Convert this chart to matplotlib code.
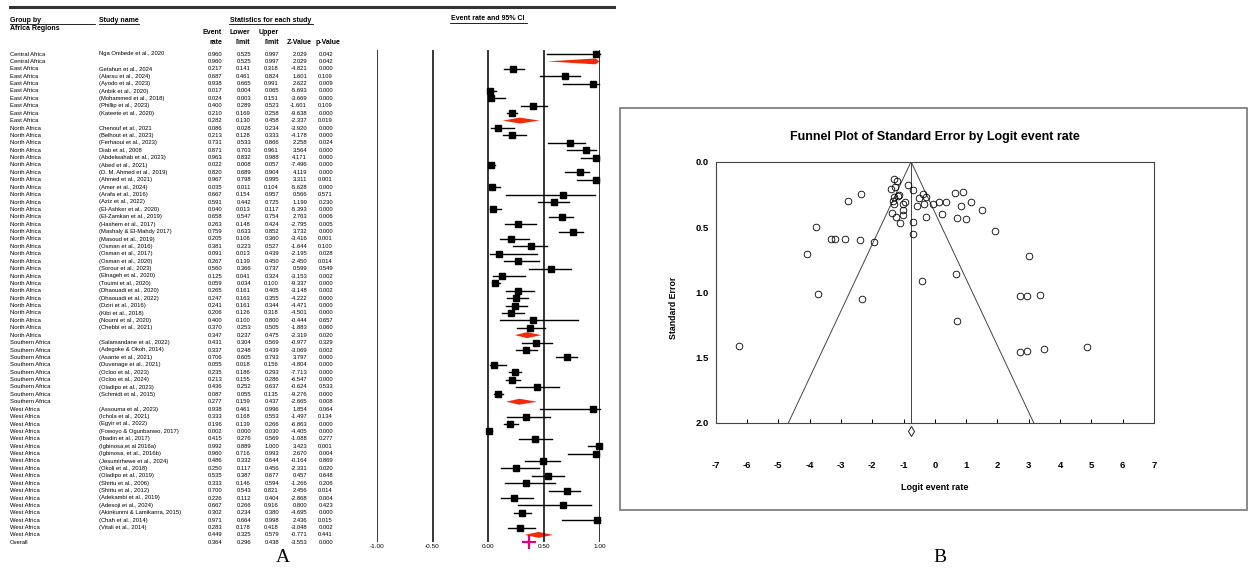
import matplotlib.pyplot as plt
from matplotlib.patches import Polygon, Rectangle

plt.rcParams['font.family'] = ['Liberation Sans', 'DejaVu Sans']

# forest plot table (panel A), blank study name = subgroup summary
regions = (['Central Africa'] * 2 + ['East Africa'] * 8 + ['North Africa'] * 29
           + ['Southern Africa'] * 9 + ['West Africa'] * 18 + ['Overall'])

studies = [
    'Nga Ombede et al., 2020', '',
    'Getahun et al., 2024', '(Alarsu et al., 2024)', '(Ayodo et al., 2023)', '(Anbik et al., 2020)',
    '(Mohammed et al., 2018)', '(Phillip et al., 2023)', '(Kateete et al., 2020)', '',
    'Chenouf et al., 2021', '(Belhout et al., 2023)', '(Ferhaoui et al., 2023)', 'Diab et al., 2008',
    '(Abdelwahab et al., 2023)', '(Abed et al., 2021)', '(D. M. Ahmed et al., 2019)', '(Ahmed et al., 2021)',
    '(Amer et al., 2024)', '(Arafa et al., 2016)', '(Aziz et al., 2022)', '(El-Ashker et al., 2020)',
    '(El-Zamkan et al., 2019)', '(Hashem et al., 2017)', '(Mashaly & El-Mahdy 2017)', '(Masoud et al., 2019)',
    '(Osman et al., 2016)', '(Osman et al., 2017)', '(Osman et al., 2020)', '(Sorour et al., 2023)',
    '(Elnageh et al., 2020)', '(Touimi et al., 2020)', '(Dhaouadi et al., 2020)', '(Dhaouadi et al., 2022)',
    '(Dziri et al., 2016)', '(Kibi et al., 2018)', '(Nourni et al., 2020)', '(Chebbi et al., 2021)', '',
    '(Salamandane et al., 2022)', '(Adegoke & Okoh, 2014)', '(Asante et al., 2021)', '(Duvenage et al., 2021)',
    '(Ocloo et al., 2023)', '(Ocloo et al., 2024)', '(Oladipo et al., 2023)', '(Schmidt et al., 2015)', '',
    '(Assouma et al., 2023)', '(Ichola et al., 2021)', '(Egyir et al., 2022)', '(Fowoyo & Ogunbanwo, 2017)',
    '(Ibadin et al., 2017)', '(Igbinosa,et al 2016a)', '(Igbinosa, et al., 2016b)', '(Jesumirhewe et al., 2024)',
    '(Okoli et al., 2018)', '(Oladipo et al., 2019)', '(Shittu et al., 2006)', '(Shittu et al., 2012)',
    '(Adekambi et al., 2019)', '(Adesoji et al., 2024)', '(Akinkunmi & Lamikanra, 2015)', '(Chah et al., 2014)',
    '(Vitali et al., 2014)', '',
    '',
]

event_rate = [0.960, 0.960,
              0.217, 0.687, 0.938, 0.017, 0.024, 0.400, 0.210, 0.282,
              0.086, 0.213, 0.731, 0.871, 0.963, 0.022, 0.820, 0.967, 0.035, 0.667, 0.591, 0.040,
              0.658, 0.263, 0.759, 0.205, 0.381, 0.091, 0.267, 0.560, 0.125, 0.059, 0.265, 0.247,
              0.241, 0.206, 0.400, 0.370, 0.347,
              0.431, 0.337, 0.706, 0.055, 0.235, 0.213, 0.436, 0.087, 0.277,
              0.938, 0.333, 0.196, 0.002, 0.415, 0.992, 0.960, 0.486, 0.250, 0.535, 0.333, 0.700,
              0.226, 0.667, 0.302, 0.971, 0.283, 0.449,
              0.364]
lower_limit = [0.525, 0.525,
               0.141, 0.461, 0.665, 0.004, 0.003, 0.289, 0.169, 0.130,
               0.028, 0.128, 0.533, 0.703, 0.832, 0.008, 0.689, 0.798, 0.011, 0.154, 0.442, 0.013,
               0.547, 0.148, 0.633, 0.106, 0.223, 0.013, 0.139, 0.366, 0.041, 0.034, 0.161, 0.163,
               0.161, 0.126, 0.100, 0.253, 0.237,
               0.304, 0.248, 0.605, 0.018, 0.186, 0.155, 0.252, 0.055, 0.159,
               0.461, 0.168, 0.139, 0.000, 0.276, 0.889, 0.716, 0.332, 0.117, 0.387, 0.146, 0.543,
               0.112, 0.266, 0.234, 0.664, 0.178, 0.325,
               0.296]
upper_limit = [0.997, 0.997,
               0.318, 0.824, 0.991, 0.065, 0.151, 0.523, 0.258, 0.458,
               0.234, 0.333, 0.866, 0.961, 0.988, 0.057, 0.904, 0.995, 0.104, 0.957, 0.725, 0.117,
               0.754, 0.424, 0.852, 0.360, 0.527, 0.439, 0.450, 0.737, 0.324, 0.100, 0.405, 0.355,
               0.344, 0.318, 0.800, 0.505, 0.475,
               0.569, 0.439, 0.793, 0.156, 0.293, 0.286, 0.637, 0.135, 0.437,
               0.996, 0.553, 0.266, 0.030, 0.569, 1.000, 0.993, 0.644, 0.456, 0.677, 0.594, 0.821,
               0.404, 0.916, 0.380, 0.998, 0.418, 0.579,
               0.438]
z_value = [2.029, 2.029,
           -4.821, 1.601, 2.622, -5.693, -3.669, -1.601, -9.638, -2.337,
           -3.920, -4.178, 2.258, 3.564, 4.171, -7.496, 4.119, 3.311, -5.628, 0.566, 1.199, -5.393,
           2.763, -2.795, 3.732, -3.416, -1.644, -2.195, -2.450, 0.599, -3.153, -9.337, -3.148, -4.222,
           -4.471, -4.501, -0.444, -1.883, -2.319,
           -0.977, -3.069, 3.797, -4.804, -7.713, -6.547, -0.624, -9.276, -2.665,
           1.854, -1.497, -6.863, -4.405, -1.088, 3.423, 2.670, -0.164, -2.331, 0.457, -1.266, 2.456,
           -2.868, 0.800, -4.695, 2.436, -3.048, -0.771,
           -3.553]
p_value = [0.042, 0.042,
           0.000, 0.109, 0.009, 0.000, 0.000, 0.109, 0.000, 0.019,
           0.000, 0.000, 0.024, 0.000, 0.000, 0.000, 0.000, 0.001, 0.000, 0.571, 0.230, 0.000,
           0.006, 0.005, 0.000, 0.001, 0.100, 0.028, 0.014, 0.549, 0.002, 0.000, 0.002, 0.000,
           0.000, 0.000, 0.657, 0.060, 0.020,
           0.329, 0.002, 0.000, 0.000, 0.000, 0.000, 0.533, 0.000, 0.008,
           0.064, 0.134, 0.000, 0.000, 0.277, 0.001, 0.004, 0.869, 0.020, 0.648, 0.206, 0.014,
           0.004, 0.423, 0.000, 0.015, 0.002, 0.441,
           0.000]

axis_ticks = [-1.0, -0.5, 0.0, 0.5, 1.0]
axis_labels = ['-1.00', '-0.50', '0.00', '0.50', '1.00']

# funnel plot (panel B)
funnel_logit = [-1.32, -1.20, -1.41, -1.27, -0.85, -0.69, -2.35, -1.15, -1.32, -1.18,
                -2.79, -1.35, -1.31, -0.94, -1.03, -0.52, -0.37, -0.27, -0.34, -0.57,
                -0.05, 0.14, 0.37, 0.65, 0.89, 1.15, 0.84, 1.51, -1.02, -1.36,
                -1.23, -1.01, -1.11, -0.69, -0.27, 0.24, 0.70, 0.99, -0.69, 1.91,
                -3.81, -3.31, -3.18, -2.86, -2.38, -1.95, -4.09, 3.00, -0.41, 0.69,
                -3.73, -2.32, 2.71, 2.94, 3.36, 0.70, -6.26, 2.71, 2.94, 3.50, 4.86]
funnel_se = [0.135, 0.15, 0.21, 0.19, 0.18, 0.22, 0.25, 0.255, 0.27, 0.26,
             0.30, 0.30, 0.32, 0.31, 0.32, 0.28, 0.25, 0.27, 0.32, 0.34,
             0.325, 0.305, 0.305, 0.236, 0.23, 0.305, 0.34, 0.37, 0.37, 0.39,
             0.42, 0.41, 0.47, 0.46, 0.42, 0.40, 0.43, 0.44, 0.55, 0.53,
             0.50, 0.59, 0.59, 0.59, 0.60, 0.615, 0.71, 0.725, 0.91, 0.86,
             1.01, 1.05, 1.03, 1.03, 1.02, 1.22, 1.41, 1.46, 1.45, 1.43, 1.42]
funnel_center = -0.76

fig = plt.figure(figsize=(12.5, 5.72), dpi=100)
bg = fig.add_axes([0, 0, 1, 1])
bg.set_xlim(0, 1250)
bg.set_ylim(572, 0)
bg.axis('off')

row_fs = 4.2
head_fs = 5.0

# header of the table
bg.plot([10, 614], [7, 7], color='#333333', lw=2.2)
bg.text(10, 20, 'Group by', fontsize=head_fs, weight='bold', va='center')
bg.plot([10, 95], [24, 24], color='black', lw=0.6)
bg.text(10, 29, 'Africa Regions', fontsize=head_fs, weight='bold', va='center')
bg.text(99, 20, 'Study name', fontsize=head_fs, weight='bold', va='center')
bg.plot([99, 139], [24, 24], color='black', lw=0.6)
bg.text(271, 20, 'Statistics for each study', fontsize=head_fs, weight='bold', va='center', ha='center')
bg.plot([229, 313], [24, 24], color='black', lw=0.6)
bg.text(222, 33, 'Event', fontsize=head_fs, weight='bold', va='center', ha='right')
bg.text(222, 43, 'rate', fontsize=head_fs, weight='bold', va='center', ha='right')
bg.text(250, 33, 'Lower', fontsize=head_fs, weight='bold', va='center', ha='right')
bg.text(250, 43, 'limit', fontsize=head_fs, weight='bold', va='center', ha='right')
bg.text(279, 33, 'Upper', fontsize=head_fs, weight='bold', va='center', ha='right')
bg.text(279, 43, 'limit', fontsize=head_fs, weight='bold', va='center', ha='right')
bg.text(299, 43, 'Z-Value', fontsize=head_fs, weight='bold', va='center', ha='center')
bg.text(328, 43, 'p-Value', fontsize=head_fs, weight='bold', va='center', ha='center')
bg.text(488, 19, 'Event rate and 95% CI', fontsize=head_fs, weight='bold', va='center', ha='center')
bg.plot([450, 527], [23, 23], color='black', lw=0.6)

row_y0 = 54
row_step = 7.4
for i in range(len(regions)):
    y = row_y0 + i * row_step
    bg.text(10, y, regions[i], fontsize=row_fs, va='center')
    bg.text(99, y, studies[i], fontsize=row_fs, va='center')
    bg.text(222, y, '%.3f' % event_rate[i], fontsize=row_fs, va='center', ha='right')
    bg.text(251, y, '%.3f' % lower_limit[i], fontsize=row_fs, va='center', ha='right')
    bg.text(279, y, '%.3f' % upper_limit[i], fontsize=row_fs, va='center', ha='right')
    bg.text(307, y, '%.3f' % z_value[i], fontsize=row_fs, va='center', ha='right')
    bg.text(333, y, '%.3f' % p_value[i], fontsize=row_fs, va='center', ha='right')

# forest plot
n = len(regions)
fa = fig.add_axes([376.7 / 1250, 1 - 542.3 / 572, (600 - 376.7) / 1250, (542.3 - 50) / 572])
fa.set_xlim(-1, 1)
fa.set_ylim(n - 1, -0.54)
fa.axis('off')
fa.vlines(axis_ticks, -0.54, n - 1, color='black', lw=1.1)
for t, lab in zip(axis_ticks, axis_labels):
    fa.text(t, n - 0.42, lab, fontsize=4.6, ha='center', va='center', clip_on=False)

for i in range(n):
    if regions[i] == 'Overall':
        fa.plot(event_rate[i], i, marker='+', color='#e6007e', ms=10, mew=1.6, clip_on=False)
    elif studies[i] == '':
        h = 0.4
        fa.add_patch(Polygon([(lower_limit[i], i), (event_rate[i], i - h),
                              (upper_limit[i], i), (event_rate[i], i + h)],
                             closed=True, color='#f02a0a', lw=0))
    else:
        fa.plot([lower_limit[i], upper_limit[i]], [i, i], color='black', lw=1.0, clip_on=False)
        fa.plot(event_rate[i], i, marker='s', color='black', ms=3.8, clip_on=False)

bg.text(283, 558, 'A', fontsize=14, family='Liberation Serif', ha='center', va='center')

# funnel plot
bg.add_patch(Rectangle((620, 108), 627, 402, fill=False, ec='#808080', lw=1.3))
narrow = ['Liberation Sans Narrow', 'DejaVu Sans Condensed', 'Liberation Sans']
bg.text(935, 137, 'Funnel Plot of Standard Error by Logit event rate', fontsize=9,
        weight='bold', family=narrow, ha='center', va='center')
bg.text(935, 487, 'Logit event rate', fontsize=6.5, weight='bold', family=narrow, ha='center', va='center')
bg.text(673, 308, 'Standard Error', fontsize=6.3, weight='bold', rotation=90, ha='center', va='center')
bg.text(940, 557, 'B', fontsize=14, family='Liberation Serif', ha='center', va='center')

ax = fig.add_axes([715.7 / 1250, 1 - 423 / 572, 438.3 / 1250, 261.3 / 572])
ax.set_xlim(-7, 7)
ax.set_ylim(2.0, 0.0)
ax.plot([funnel_center - 1.96 * 2.0, funnel_center, funnel_center + 1.96 * 2.0], [2.0, 0.0, 2.0],
        color='#444444', lw=0.7)
ax.plot([funnel_center, funnel_center], [0.0, 2.0], color='#444444', lw=0.7)
ax.plot(funnel_logit, funnel_se, 'o', mfc='none', mec='black', ms=4.8, mew=0.6)
ax.plot(funnel_center, 2.065, marker='d', mfc='none', mec='black', ms=5, mew=0.6, clip_on=False)
for s in ax.spines.values():
    s.set_color('#444444')
    s.set_linewidth(0.8)
ax.set_xticks(range(-7, 8))
ax.set_xticklabels([str(v) for v in range(-7, 8)], fontsize=6.8, weight='bold', family=narrow)
ax.set_yticks([0.0, 0.5, 1.0, 1.5, 2.0])
ax.set_yticklabels(['0.0', '0.5', '1.0', '1.5', '2.0'], fontsize=6.8, weight='bold', family=narrow)
ax.tick_params(axis='x', direction='in', length=3, width=0.7, pad=27, top=False)
ax.tick_params(axis='y', length=0, pad=5)

fig.savefig('out.png', dpi=100)
